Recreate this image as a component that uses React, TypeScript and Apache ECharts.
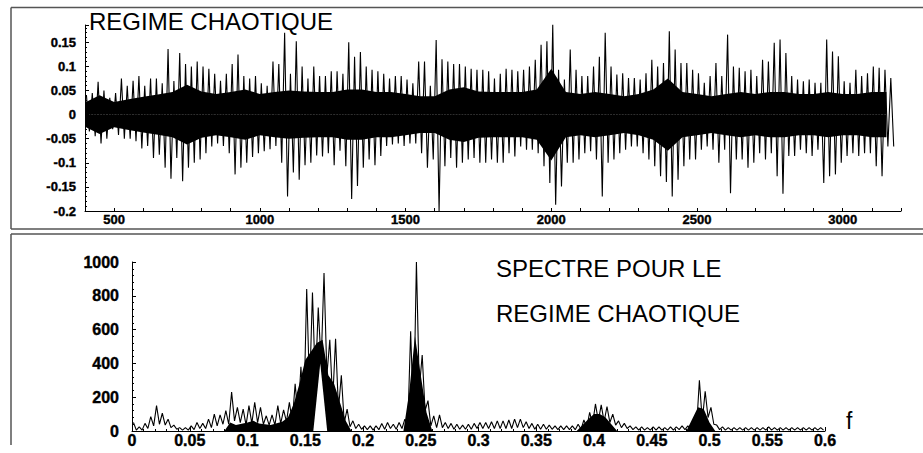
import React, { useEffect, useRef } from "react";
import * as echarts from "echarts";

const FONT = "'Liberation Sans', Arial, Helvetica, sans-serif";

// ---- time signal (chaotic regime): envelope read per 20-sample block starting at 400
const SIGNAL_START = 400;
const SIGNAL_STEP = 20;
const signalUpper = [
  0.04, 0.045, 0.068, 0.05, 0.035, 0.045, 0.075, 0.06, 0.07, 0.08,
  0.06, 0.075, 0.075, 0.065, 0.136, 0.07, 0.128, 0.105, 0.1, 0.11,
  0.1, 0.095, 0.085, 0.07, 0.085, 0.105, 0.125, 0.08, 0.075, 0.08,
  0.065, 0.06, 0.11, 0.105, 0.17, 0.085, 0.152, 0.1, 0.075, 0.1,
  0.08, 0.08, 0.09, 0.09, 0.085, 0.15, 0.12, 0.13, 0.1, 0.093,
  0.09, 0.085, 0.075, 0.08, 0.08, 0.073, 0.065, 0.11, 0.11, 0.06,
  0.155, 0.115, 0.11, 0.105, 0.105, 0.1, 0.095, 0.093, 0.093, 0.09,
  0.075, 0.085, 0.095, 0.093, 0.09, 0.093, 0.1, 0.114, 0.145, 0.152,
  0.187, 0.093, 0.073, 0.135, 0.093, 0.08, 0.08, 0.1, 0.12, 0.17,
  0.1, 0.083, 0.086, 0.076, 0.076, 0.073, 0.086, 0.114, 0.1, 0.107,
  0.173, 0.135, 0.107, 0.107, 0.093, 0.086, 0.066, 0.08, 0.107, 0.08,
  0.166, 0.1, 0.097, 0.09, 0.093, 0.08, 0.114, 0.11, 0.149, 0.156,
  0.128, 0.08, 0.073, 0.069, 0.073, 0.066, 0.066, 0.156, 0.131, 0.121,
  0.069, 0.066, 0.093, 0.08, 0.086, 0.1, 0.097, 0.093, 0.076,
];
const signalLower = [
  -0.035, -0.045, -0.06, -0.05, -0.03, -0.042, -0.05, -0.05, -0.055, -0.07,
  -0.065, -0.09, -0.083, -0.11, -0.133, -0.09, -0.138, -0.11, -0.1, -0.093,
  -0.08, -0.066, -0.06, -0.065, -0.08, -0.124, -0.11, -0.1, -0.088, -0.08,
  -0.076, -0.072, -0.065, -0.1, -0.17, -0.12, -0.135, -0.105, -0.1, -0.085,
  -0.087, -0.08, -0.105, -0.075, -0.107, -0.175, -0.148, -0.11, -0.093, -0.105,
  -0.086, -0.065, -0.062, -0.06, -0.065, -0.06, -0.06, -0.08, -0.11, -0.093,
  -0.2, -0.107, -0.09, -0.11, -0.1, -0.093, -0.09, -0.1, -0.1, -0.093,
  -0.1, -0.1, -0.08, -0.087, -0.066, -0.073, -0.073, -0.08, -0.107, -0.142,
  -0.187, -0.149, -0.1, -0.1, -0.093, -0.08, -0.076, -0.093, -0.17, -0.1,
  -0.093, -0.08, -0.073, -0.066, -0.066, -0.08, -0.093, -0.107, -0.128, -0.14,
  -0.17, -0.135, -0.107, -0.093, -0.093, -0.073, -0.066, -0.073, -0.1, -0.073,
  -0.163, -0.093, -0.093, -0.11, -0.1, -0.08, -0.093, -0.08, -0.128, -0.164,
  -0.086, -0.086, -0.073, -0.08, -0.086, -0.073, -0.142, -0.128, -0.124, -0.1,
  -0.086, -0.08, -0.086, -0.08, -0.08, -0.107, -0.128, -0.066, -0.066,
];
// dense (solid) core amplitude, every 50 samples from 400
const CORE_STEP = 50;
const signalCore = [
  0.025, 0.04, 0.026, 0.032, 0.037, 0.042, 0.047, 0.062, 0.048, 0.043,
  0.047, 0.052, 0.043, 0.047, 0.05, 0.048, 0.047, 0.047, 0.052, 0.052,
  0.047, 0.047, 0.043, 0.038, 0.038, 0.052, 0.057, 0.048, 0.047, 0.047,
  0.047, 0.052, 0.095, 0.047, 0.043, 0.047, 0.043, 0.038, 0.043, 0.052,
  0.075, 0.047, 0.043, 0.038, 0.043, 0.047, 0.043, 0.047, 0.047, 0.043,
  0.043, 0.047, 0.043, 0.043, 0.047, 0.047,
];
const timeLabelValues = [500, 1000, 1500, 2000, 2500, 3000];

// ---- spectrum: high / low per 0.005 block from 0
const SPEC_STEP = 0.005;
const spectrumHigh = [
  50, 25, 45, 85, 150, 105, 70, 35, 20, 20,
  30, 50, 45, 70, 100, 95, 120, 230, 140, 130,
  150, 170, 140, 90, 95, 150, 125, 170, 280, 380,
  840, 820, 730, 935, 540, 545, 330, 130, 60, 40,
  30, 30, 30, 45, 50, 40, 50, 70, 590, 1000,
  450, 180, 90, 95, 50, 45, 40, 35, 40, 45,
  50, 50, 55, 60, 60, 65, 70, 70, 55, 45,
  40, 40, 35, 30, 30, 30, 30, 40, 65, 110,
  160, 155, 145, 100, 60, 45, 30, 25, 25, 20,
  25, 25, 20, 25, 25, 30, 30, 55, 300, 235,
  140, 35, 25, 20, 20, 20, 20, 20, 20, 20,
  25, 20, 20, 20, 20, 20, 20, 20, 20, 20,
];
const spectrumLow = [
  5, 5, 15, 30, 40, 35, 20, 10, 5, 5,
  8, 15, 15, 20, 30, 40, 40, 60, 50, 35,
  45, 50, 40, 35, 35, 45, 55, 55, 85, 100,
  240, 280, 400, 330, 180, 130, 50, 25, 15, 10,
  8, 5, 8, 10, 15, 10, 15, 20, 60, 250,
  120, 30, 20, 20, 15, 10, 10, 10, 10, 15,
  15, 15, 15, 15, 15, 15, 20, 20, 15, 10,
  10, 10, 10, 8, 8, 8, 8, 10, 20, 40,
  60, 55, 50, 35, 20, 15, 8, 5, 5, 5,
  5, 5, 5, 5, 8, 8, 10, 15, 60, 80,
  40, 8, 5, 5, 5, 5, 5, 5, 5, 5,
  5, 5, 5, 5, 5, 5, 5, 5, 5, 5,
];
// solid (dense) part of the spectrum under the noisy trace
const denseFreq = [
  0.08, 0.085, 0.09, 0.1, 0.105, 0.11, 0.12, 0.13, 0.135, 0.14,
  0.145, 0.15, 0.155, 0.16, 0.165, 0.17, 0.175, 0.18, 0.185, 0.19,
  0.235, 0.24, 0.245, 0.25, 0.255, 0.26,
  0.385, 0.395, 0.4, 0.405, 0.41, 0.42,
  0.48, 0.49, 0.495, 0.5, 0.505,
];
const denseTop = [
  0, 50, 35, 50, 60, 45, 35, 55, 80, 160,
  280, 420, 470, 520, 540, 330, 280, 170, 60, 0,
  0, 230, 560, 330, 110, 0,
  0, 70, 100, 100, 80, 0,
  0, 140, 130, 50, 0,
];
// white gap under the 0.16 peak
const notchFreq = [0.157, 0.163, 0.169];
const notchTop = [0, 400, 0];

const fmt = (v: number) => String(Number(v.toFixed(2)));

export default function App() {
  const ref = useRef<HTMLDivElement>(null);
  useEffect(() => {
    if (!ref.current) return;
    const chart = echarts.init(ref.current, undefined, { renderer: "svg" });

    const zig: number[][] = [];
    signalUpper.forEach((u, i) => {
      const x = SIGNAL_START + i * SIGNAL_STEP;
      zig.push([x + 5, u]);
      zig.push([x + 15, signalLower[i]]);
    });
    const coreUp = signalCore.map((c, i) => [SIGNAL_START + i * CORE_STEP, c]);
    const coreLo = signalCore.map((c, i) => [SIGNAL_START + i * CORE_STEP, -c]);

    const spec: number[][] = [];
    spectrumHigh.forEach((h, i) => {
      const f = i * SPEC_STEP;
      spec.push([+(f + 0.00125).toFixed(5), h]);
      spec.push([+(f + 0.00375).toFixed(5), spectrumLow[i]]);
    });
    const dense = denseFreq.map((f, i) => [f, denseTop[i]]);
    const notch = notchFreq.map((f, i) => [f, notchTop[i]]);

    const axisCommon = {
      axisLine: { onZero: false, lineStyle: { color: "#000", width: 1 } },
      splitLine: { show: false },
    };
    const labelTop = {
      fontWeight: "bold",
      fontSize: 13,
      color: "#000",
      fontFamily: FONT,
      textBorderColor: "#000",
      textBorderWidth: 0.4,
    };
    const labelBottom = {
      fontWeight: "bold",
      fontSize: 16,
      color: "#000",
      fontFamily: FONT,
      textBorderColor: "#000",
      textBorderWidth: 0.4,
    };

    const txt = (text: string, x: number, y: number, size: number) => ({
      type: "text",
      x,
      y,
      style: {
        text,
        fontSize: size,
        fontFamily: FONT,
        fill: "#000",
        textAlign: "left",
        textVerticalAlign: "middle",
        align: "left",
        verticalAlign: "middle",
      },
    });
    const border = (x1: number, y1: number, x2: number, y2: number) => ({
      type: "line",
      shape: { x1, y1, x2, y2 },
      style: { stroke: "#555", lineWidth: 1.5 },
    });

    const option: any = {
      animation: false,
      backgroundColor: "#fff",
      textStyle: { fontFamily: FONT },
      grid: [
        { left: 85, top: 25, width: 816, height: 186 },
        { left: 132, top: 262, width: 693, height: 169 },
      ],
      xAxis: [
        {
          type: "value",
          gridIndex: 0,
          min: 400,
          max: 3200,
          interval: 100,
          ...axisCommon,
          axisTick: { inside: true, length: 3, lineStyle: { color: "#000" } },
          axisLabel: {
            ...labelTop,
            formatter: (v: number) =>
              timeLabelValues.includes(Math.round(v)) ? String(Math.round(v)) : "",
            margin: 2,
          },
        },
        {
          type: "value",
          gridIndex: 1,
          min: 0,
          max: 0.6,
          interval: 0.05,
          ...axisCommon,
          axisTick: { inside: true, length: 4, lineStyle: { color: "#000" } },
          minorTick: { show: true, splitNumber: 5, length: 2, lineStyle: { color: "#000" } },
          axisLabel: { ...labelBottom, formatter: fmt, margin: 1 },
        },
      ],
      yAxis: [
        {
          type: "value",
          gridIndex: 0,
          min: -0.2,
          max: 0.186,
          interval: 0.05,
          ...axisCommon,
          axisTick: { inside: true, length: 4, lineStyle: { color: "#000" } },
          minorTick: { show: true, splitNumber: 5, length: 2, lineStyle: { color: "#000" } },
          axisLabel: {
            ...labelTop,
            formatter: (v: number) => (v > 0.17 ? "" : fmt(v)),
            margin: 9,
          },
        },
        {
          type: "value",
          gridIndex: 1,
          min: 0,
          max: 1000,
          interval: 200,
          ...axisCommon,
          axisTick: { inside: true, length: 4, lineStyle: { color: "#000" } },
          minorTick: { show: true, splitNumber: 5, length: 2, lineStyle: { color: "#000" } },
          axisLabel: { ...labelBottom, formatter: (v: number) => String(Math.round(v)), margin: 13 },
        },
      ],
      series: [
        {
          type: "line",
          xAxisIndex: 0,
          yAxisIndex: 0,
          data: coreUp,
          showSymbol: false,
          lineStyle: { width: 0, color: "#000" },
          areaStyle: { color: "#000", opacity: 1 },
        },
        {
          type: "line",
          xAxisIndex: 0,
          yAxisIndex: 0,
          data: coreLo,
          showSymbol: false,
          lineStyle: { width: 0, color: "#000" },
          areaStyle: { color: "#000", opacity: 1 },
        },
        {
          type: "line",
          xAxisIndex: 0,
          yAxisIndex: 0,
          data: zig,
          showSymbol: false,
          lineStyle: { width: 1.1, color: "#000" },
        },
        {
          type: "line",
          xAxisIndex: 1,
          yAxisIndex: 1,
          data: dense,
          showSymbol: false,
          lineStyle: { width: 0, color: "#000" },
          areaStyle: { color: "#000", opacity: 1 },
        },
        {
          type: "line",
          xAxisIndex: 1,
          yAxisIndex: 1,
          data: notch,
          showSymbol: false,
          lineStyle: { width: 0, color: "#fff" },
          areaStyle: { color: "#fff", opacity: 1 },
        },
        {
          type: "line",
          xAxisIndex: 1,
          yAxisIndex: 1,
          data: spec,
          showSymbol: false,
          lineStyle: { width: 1.1, color: "#000" },
        },
      ],
      graphic: [
        border(11, 7.5, 925, 7.5),
        border(11, 229, 925, 229),
        border(11, 7.5, 11, 229),
        border(11, 234, 925, 234),
        border(11, 234, 11, 445),
        txt("REGIME CHAOTIQUE", 89, 21, 24),
        txt("SPECTRE POUR LE", 496, 268, 24),
        txt("REGIME CHAOTIQUE", 496, 313, 24),
        txt("f", 846, 421, 23),
      ],
    };

    chart.setOption(option);
    return () => chart.dispose();
  }, []);

  return (
    <div
      ref={ref}
      style={{ position: "absolute", left: 0, top: 0, width: 923, height: 453, background: "#fff" }}
    />
  );
}
